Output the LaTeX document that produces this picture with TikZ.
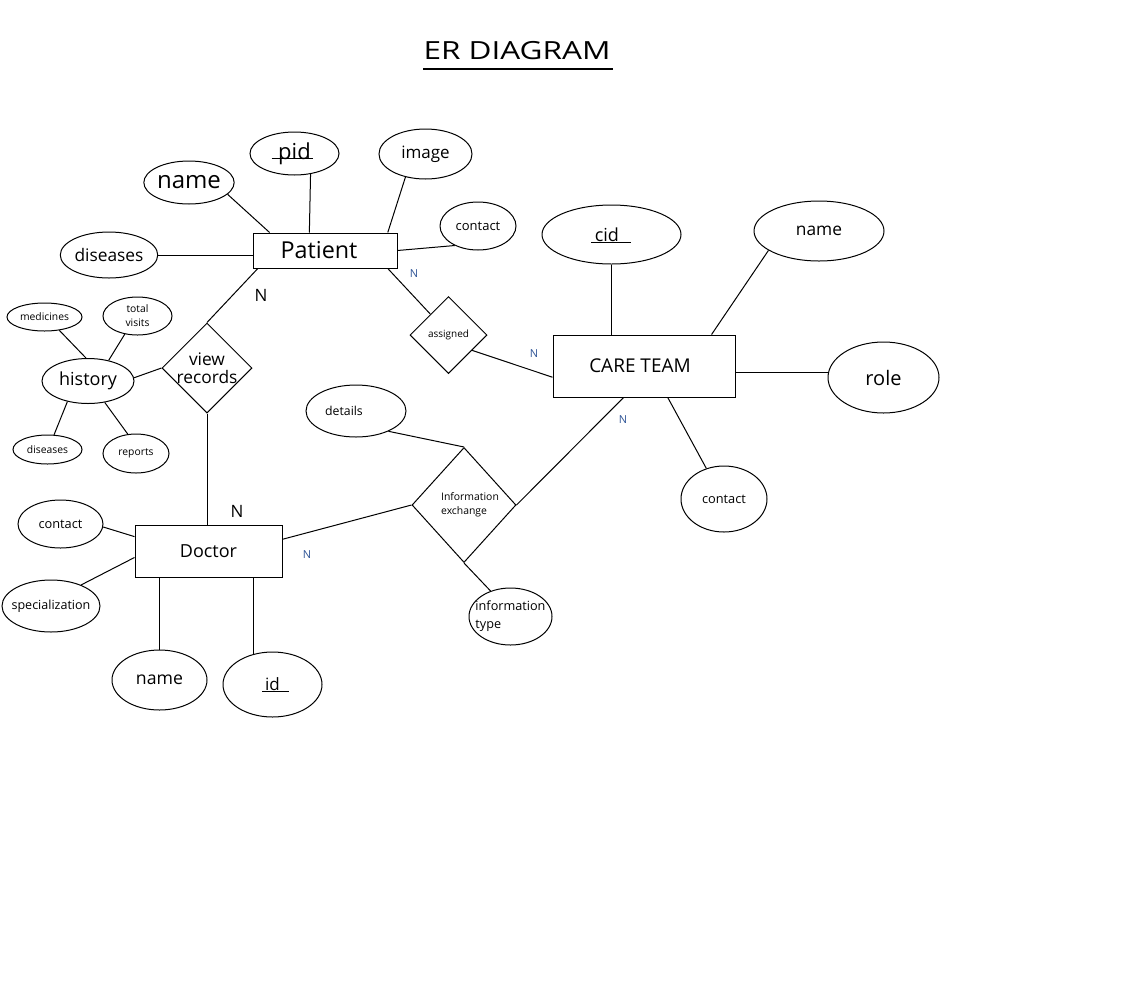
\documentclass[tikz,border=0pt]{standalone}
\usepackage{fontspec}
\setmainfont{Open Sans}
\usetikzlibrary{shapes.geometric}
\definecolor{cardblue}{RGB}{46, 84, 150}
\tikzset{
	entity/.style={draw, rectangle, inner sep=0pt},
	attrib/.style={draw, ellipse, inner sep=0pt},
	relation/.style={draw, diamond, inner sep=0pt},
	sz/.style 2 args={minimum width=#1*0.75pt, minimum height=#2*0.75pt},
	fs/.style={font=\fontsize{#1}{#1}\selectfont},
	card/.style={text=cardblue, fs=8.25},
	bigcard/.style={fs=12.75}
}

\begin{document}
\begin{tikzpicture}[x=0.75pt, y=-0.75pt, line width=0.75pt]
			\useasboundingbox (0, 0) rectangle (1138, 982);
			% title
			\node[fs=18.75] (title) at (517, 51) {\scalebox{1.26}[1]{ER DIAGRAM}};
			\draw[line width=1.5pt] ([shift={(-94, 18)}]title.center) -- ++(190, 0);
			% patient
			\node[entity, sz={144}{35}, label={[fs=17.5, xshift=-4.5pt]center:Patient}] (patient) at (325, 250.5) {};
			\node[attrib, sz={89}{43}, fs=16.5] (pid) at (294.5, 153.5) {pid};
			\draw ([shift={(-23, 5)}]pid.center) -- ++(41, 0);
			\node[attrib, sz={86}{43}, fs=18] (pname) at (189, 182.5) {name};
			\node[attrib, sz={93}{50}, fs=12.75] (pimage) at (425.5, 154) {image};
			\node[attrib, sz={76}{48}, fs=9.75] (pcontact) at (478, 226) {contact};
			\node[attrib, sz={88}{46}, fs=13] (pdiseases) at (109, 255) {diseases};
			\node[relation, sz={90}{90}, label={[font=\fontsize{13}{13.5}\selectfont, align=center]center:view\\records}] (vrec) at (207, 368) {};
			\node[attrib, sz={92}{45}, fs=13.5] (history) at (88, 381) {history};
			\node[attrib, sz={75}{28}, fs=7.75] (medicines) at (44.5, 317) {medicines};
			\node[attrib, sz={69}{38}, label={[font=\fontsize{7.75}{10.5}\selectfont, align=center]center:total\\visits}] (visits) at (137.5, 316) {};
			\node[attrib, sz={69}{29}, fs=7.75] (hdiseases) at (47.5, 449.5) {diseases};
			\node[attrib, sz={66}{39}, fs=7.75] (reports) at (136, 453.5) {reports};
			% care team
			\node[entity, sz={182}{62}, label={[fs=14.25, xshift=-3pt]center:CARE TEAM}] (care) at (644, 366) {};
			\node[attrib, sz={139}{59}, label={[fs=13.5, xshift=-3.5pt]center:cid}] (cid) at (611.5, 234.5) {};
			\draw ([shift={(-20.5, 8)}]cid.center) -- ++(40, 0);
			\node[attrib, sz={130}{60}, fs=13] (cname) at (819, 231) {name};
			\node[attrib, sz={111}{71}, fs=15] (role) at (883.5, 377.5) {role};
			\node[attrib, sz={86}{66}, fs=9.6] (ccontact) at (724, 499) {contact};
			\node[relation, sz={77}{77}, fs=7.5] (assigned) at (448.5, 335) {assigned};
			\node[relation, sz={104}{115}, label={[font=\fontsize{7.8}{10.5}\selectfont, align=left, xshift=4.5pt]center:Information\\exchange}] (infoex) at (464, 505) {};
			\node[attrib, sz={100}{52}, label={[fs=9.2, xshift=-9pt]center:details}] (details) at (356, 411) {};
			\node[attrib, sz={83}{57}, label={[font=\fontsize{9.5}{13.5}\selectfont, align=left]center:information\\type}] (infotype) at (510.5, 616.5) {};
			% doctor
			\node[entity, sz={147}{52}, fs=13.5] (doctor) at (208.5, 551) {Doctor};
			\node[attrib, sz={85}{48}, fs=9.6] (dcontact) at (60.5, 524) {contact};
			\node[attrib, sz={98}{52}, label={[fs=9.4]center:specialization}] (special) at (51, 606) {};
			\node[attrib, sz={95}{60}, fs=13.25] (dname) at (159.5, 680) {name};
			\node[attrib, sz={99}{65}, fs=12.75] (did) at (272.5, 684.5) {id};
			\draw ([shift={(-10.5, 6.5)}]did.center) -- ++(27, 0);
			% cardinalities
			\node[bigcard] (npatient) at (261, 295) {N};
			\node[card] (nassigned) at (414, 274) {N};
			\node[card] (ncare) at (534, 354) {N};
			\node[card] (ncareex) at (623, 420) {N};
			\node[bigcard] (ndoctor) at (237, 511) {N};
			\node[card] (ndoctorex) at (307, 555) {N};
			% links
			\draw (pid.-52) -- (patient.131);
			\draw (pname.-17) -- (patient.162);
			\draw (pimage.229) -- (patient.16);
			\draw (patient.east) -- (pcontact.220);
			\draw (pdiseases.east) -- (pdiseases.east -| patient.west);
			\draw (patient.-165) -- (vrec.north);
			\draw (patient.-16) -- (assigned.131);
			\draw (assigned.-33) -- (care.187);
			\draw (cid.south) -- (cid.south |- care.north);
			\draw (cname.201) -- (care.25);
			\draw (role.175) -- (role.175 -| care.east);
			\draw (care.-53) -- (ccontact.120);
			\draw (care.-123) -- (infoex.east);
			\draw (details.-32) -- (infoex.north);
			\draw (infoex.south) -- (infotype.128);
			\draw (doctor.9) -- (infoex.west);
			\draw (vrec.south) -- (vrec.south |- doctor.north);
			\draw (history.4) -- (vrec.west);
			\draw (medicines.-42) -- (history.95);
			\draw (visits.235) -- (history.45);
			\draw (history.-135) -- (hdiseases.66);
			\draw (history.-52) -- (reports.113);
			\draw (dcontact.-4) -- (doctor.169);
			\draw (special.35) -- (doctor.185);
			\draw (dname.north) -- (dname.north |- doctor.south);
			\draw (did.122) -- (did.122 |- doctor.south);
		\end{tikzpicture}
\end{document}
